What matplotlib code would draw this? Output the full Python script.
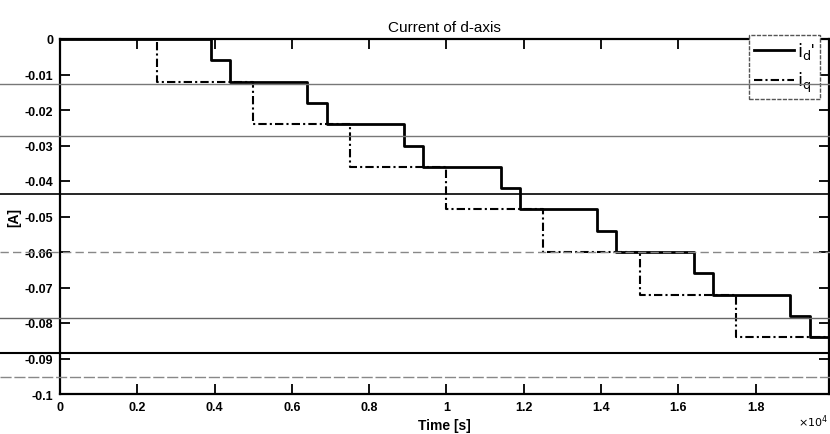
import matplotlib
matplotlib.use("Agg")
import matplotlib.pyplot as plt
from matplotlib.lines import Line2D
from matplotlib import font_manager

# step currents (time in units of the axis multiplier)
iq_times = [0, 0.25, 0.50, 0.75, 1.00, 1.25, 1.50, 1.75, 1.99]
iq_values = [0, -0.012, -0.024, -0.036, -0.048, -0.060, -0.072, -0.084, -0.084]

id_times = [0, 0.39, 0.44, 0.64, 0.69, 0.89, 0.94, 1.14, 1.19, 1.39, 1.44,
            1.64, 1.69, 1.89, 1.94, 1.99]
id_values = [0, -0.006, -0.012, -0.018, -0.024, -0.030, -0.036, -0.042, -0.048,
             -0.054, -0.060, -0.066, -0.072, -0.078, -0.084, -0.084]

x_ticks = [0, 0.2, 0.4, 0.6, 0.8, 1.0, 1.2, 1.4, 1.6, 1.8]
x_ticklabels = ["0", "0.2", "0.4", "0.6", "0.8", "1", "1.2", "1.4", "1.6", "1.8"]
y_ticks = [0, -0.01, -0.02, -0.03, -0.04, -0.05, -0.06, -0.07, -0.08, -0.09, -0.1]
y_ticklabels = ["0", "-0.01", "-0.02", "-0.03", "-0.04", "-0.05", "-0.06",
                "-0.07", "-0.08", "-0.09", "-0.1"]

names = {f.name for f in font_manager.fontManager.ttflist}
narrow = "Liberation Sans Narrow" if "Liberation Sans Narrow" in names else "Liberation Sans"
plt.rcParams["font.family"] = [narrow, "DejaVu Sans"]

W, H = 830, 435
fig = plt.figure(figsize=(W / 100, H / 100), dpi=100)
fig.patch.set_facecolor("white")

left, right, top, bottom = 60, 829, 40, 395
ax = fig.add_axes([left / W, 1 - bottom / H, (right - left) / W, (bottom - top) / H])

ax.step(id_times, id_values, where="post", color="black", lw=2.0, label=r"$\mathrm{i_d}$'")
ax.step(iq_times, iq_values, where="post", color="black", lw=1.5,
        linestyle=(0, (4, 1.5, 1, 1.5)), label=r"$\mathrm{i_q}$")

ax.set_xlim(0, 1.99)
ax.set_ylim(-0.1, 0)
ax.set_xticks(x_ticks)
ax.set_xticklabels(x_ticklabels, fontsize=9, fontweight="bold")
ax.set_yticks(y_ticks)
ax.set_yticklabels(y_ticklabels, fontsize=9, fontweight="bold")
ax.tick_params(direction="in", length=7, width=1.3, top=True, right=True, pad=5)
for s in ax.spines.values():
    s.set_linewidth(1.6)

ax.set_title("Current of d-axis", fontsize=11, pad=6)
ax.set_xlabel("Time [s]", fontsize=10, fontweight="bold", labelpad=4)
ax.set_ylabel("[A]", fontsize=10, fontweight="bold", labelpad=2)

leg = ax.legend(loc="upper right", fontsize=13, handlelength=2.2, handletextpad=0.2,
                borderpad=0.25, labelspacing=0.5, fancybox=False, framealpha=1,
                edgecolor="#555555", bbox_to_anchor=(0.988, 1.01), borderaxespad=0)
leg.get_frame().set_linestyle((0, (3, 1)))
leg.get_frame().set_linewidth(1.0)

fig.text(798 / W, 1 - 422 / H, r"$\times10^{4}$", fontsize=8, ha="left", va="center")

# horizontal rules running across the whole figure
rules = [(85, "#777777", 1.0, "-"), (137, "#777777", 1.0, "-"), (195, "black", 1.2, "-"),
         (253, "#888888", 1.0, (0, (6, 3))), (319, "#666666", 1.0, "-"),
         (354, "black", 1.5, "-"), (378, "#888888", 1.0, (0, (8, 2)))]
for y, c, lw, ls in rules:
    fig.add_artist(Line2D([0, 1], [1 - y / H, 1 - y / H], transform=fig.transFigure,
                          color=c, lw=lw, linestyle=ls, zorder=0.5))

fig.savefig("out.png", dpi=100, facecolor="white")
